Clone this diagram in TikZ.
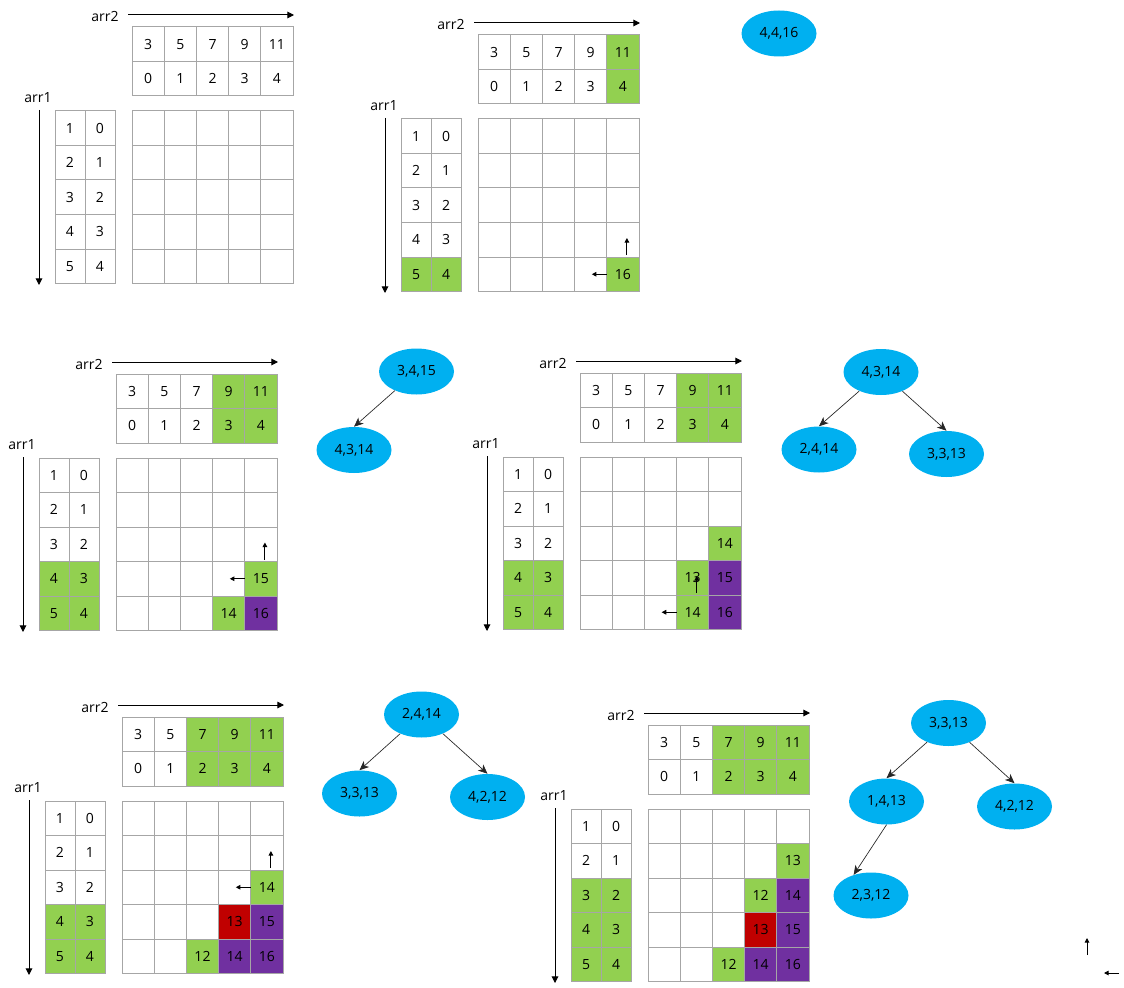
\documentclass[tikz,border=0pt]{standalone}
\usepackage{fontspec}
\setmainfont{Open Sans}
\usetikzlibrary{shapes.geometric,arrows.meta}
\definecolor{cgreen}{HTML}{92D050}
\definecolor{cpurple}{HTML}{7030A0}
\definecolor{cred}{HTML}{C00000}
\definecolor{cblue}{HTML}{00B0F0}
\definecolor{cgrid}{HTML}{A6A6A6}
\tikzset{
  every node/.style={font=\fontsize{10.5}{12}\selectfont, text=black},
  cellbox/.style={draw=cgrid, line width=0.75pt, minimum width=24.15pt, minimum height=25.875pt, inner sep=0pt, outer sep=0pt},
  lcellbox/.style={cellbox, minimum width=22.5pt},
  axisarrow/.style={draw=black, line width=0.75pt, -{Triangle[length=5pt,width=5pt]}},
  smallarrow/.style={draw=black, line width=0.75pt, -{Triangle[length=3.5pt,width=3.5pt]}},
  bubble/.style={ellipse, fill=cblue, minimum width=56.25pt, minimum height=34.5pt, inner sep=0pt},
  treeedge/.style={draw=black!85, line width=0.5pt, -{Stealth[length=7pt,width=6pt,inset=2pt]}},
  lbl/.style={inner sep=0pt}
}
\newcommand\setc[5]{\expandafter\def\csname fc#1#2#3\endcsname{#4}\expandafter\def\csname tx#1#2#3\endcsname{#5}}
\newcommand\drawpanel[5]{%
\begin{scope}[shift={(#2,#3)}]
  \node[lbl] (#1-l2) at (105,17) {arr2};
  \coordinate (#1-a2s) at (128,15);
  \coordinate (#1-a2e) at (294,15);
  \draw[axisarrow] (#1-a2s) -- (#1-a2e);
  \node[lbl] (#1-l1) at (38,98) {arr1};
  \coordinate (#1-a1s) at (39,110);
  \coordinate (#1-a1e) at (39,285);
  \draw[axisarrow] (#1-a1s) -- (#1-a1e);
  \foreach \cc/\vv in {0/3,1/5,2/7,3/9,4/11}{%
    \ifnum\cc<#4\relax\def\fc{white}\else\def\fc{cgreen}\fi
    \node[cellbox, fill=\fc] (#1-t0\cc) at ({132+32.2*(\cc+0.5)},44.25) {\vv};
    \node[cellbox, fill=\fc] (#1-t1\cc) at ({132+32.2*(\cc+0.5)},78.75) {\cc};
  }
  \foreach \rr in {0,...,4}{%
    \ifnum\rr<#5\relax\def\fc{white}\else\def\fc{cgreen}\fi
    \pgfmathtruncatemacro\rv{\rr+1}%
    \node[lcellbox, fill=\fc] (#1-l\rr0) at (70,{111+34.5*(\rr+0.5)}) {\rv};
    \node[lcellbox, fill=\fc] (#1-l\rr1) at (100,{111+34.5*(\rr+0.5)}) {\rr};
  }
  \foreach \rr in {0,...,4}{\foreach \cc in {0,...,4}{%
    \ifcsname fc#1\rr\cc\endcsname
      \edef\fc{\csname fc#1\rr\cc\endcsname}\edef\tx{\csname tx#1\rr\cc\endcsname}%
    \else\def\fc{white}\def\tx{}\fi
    \node[cellbox, fill=\fc] (#1-g\rr\cc) at ({132+32.2*(\cc+0.5)},{111+34.5*(\rr+0.5)}) {\tx};
  }}
\end{scope}}
\newcommand\uparr[1]{\draw[smallarrow] ([shift={(4,-2)}]#1.north) -- ++(0,-17);}
\newcommand\leftarr[1]{\draw[smallarrow] ([shift={(0,0)}]#1.west) -- ++(-15,0);}

\setc{b}{4}{4}{cgreen}{16}
\setc{c}{3}{4}{cgreen}{15}
\setc{c}{4}{3}{cgreen}{14}
\setc{c}{4}{4}{cpurple}{16}
\setc{d}{2}{4}{cgreen}{14}
\setc{d}{3}{3}{cgreen}{13}
\setc{d}{3}{4}{cpurple}{15}
\setc{d}{4}{3}{cgreen}{14}
\setc{d}{4}{4}{cpurple}{16}
\setc{e}{2}{4}{cgreen}{14}
\setc{e}{3}{3}{cred}{13}
\setc{e}{3}{4}{cpurple}{15}
\setc{e}{4}{2}{cgreen}{12}
\setc{e}{4}{3}{cpurple}{14}
\setc{e}{4}{4}{cpurple}{16}
\setc{f}{1}{4}{cgreen}{13}
\setc{f}{2}{3}{cgreen}{12}
\setc{f}{2}{4}{cpurple}{14}
\setc{f}{3}{3}{cred}{13}
\setc{f}{3}{4}{cpurple}{15}
\setc{f}{4}{2}{cgreen}{12}
\setc{f}{4}{3}{cpurple}{14}
\setc{f}{4}{4}{cpurple}{16}

\begin{document}
\begin{tikzpicture}[x=0.75pt,y=-0.75pt]
\fill[white] (0,0) rectangle (1124,988);
\useasboundingbox (0,0) rectangle (1124,988);

\drawpanel{a}{0}{0}{5}{5}
\drawpanel{b}{346}{8}{4}{4}
\drawpanel{c}{-16}{347}{3}{3}
\drawpanel{d}{448}{346}{3}{3}
\drawpanel{e}{-10}{690}{2}{3}
\drawpanel{f}{516}{698}{2}{2}

\uparr{b-g44}
\leftarr{b-g44}
\uparr{c-g34}
\leftarr{c-g34}
\uparr{d-g43}
\leftarr{d-g43}
\uparr{e-g24}
\leftarr{e-g24}

\node[bubble] (n1) at (779,33.5) {4,4,16};

\node[bubble] (n2) at (416.5,371.5) {3,4,15};
\node[bubble] (n3) at (354,450) {4,3,14};
\draw[treeedge] (n2) -- (n3.north);

\node[bubble] (n4) at (881,372) {4,3,14};
\node[bubble] (n5) at (819,449.5) {2,4,14};
\node[bubble] (n6) at (946.5,454) {3,3,13};
\draw[treeedge] (n4) -- (n5.north);
\draw[treeedge] (n4) -- (n6.north);

\node[bubble] (n7) at (421.5,714.5) {2,4,14};
\node[bubble] (n8) at (359.5,793.5) {3,3,13};
\node[bubble] (n9) at (487.5,797) {4,2,12};
\draw[treeedge] (n7) -- (n8.north);
\draw[treeedge] (n7) -- (n9.north);

\node[bubble] (n10) at (948.5,723) {3,3,13};
\node[bubble] (n11) at (886.5,801.5) {1,4,13};
\node[bubble] (n12) at (1014.5,806.5) {4,2,12};
\node[bubble] (n13) at (871,895.5) {2,3,12};
\draw[treeedge] (n10) -- (n11.north);
\draw[treeedge] (n10) -- (n12.north);
\draw[treeedge] (n11.south) -- (n13.130);

\coordinate (s1a) at (1087,955);
\coordinate (s1b) at (1087,938);
\coordinate (s2a) at (1119,973);
\coordinate (s2b) at (1104,973);
\draw[smallarrow] (s1a) -- (s1b);
\draw[smallarrow] (s2a) -- (s2b);
\end{tikzpicture}
\end{document}
